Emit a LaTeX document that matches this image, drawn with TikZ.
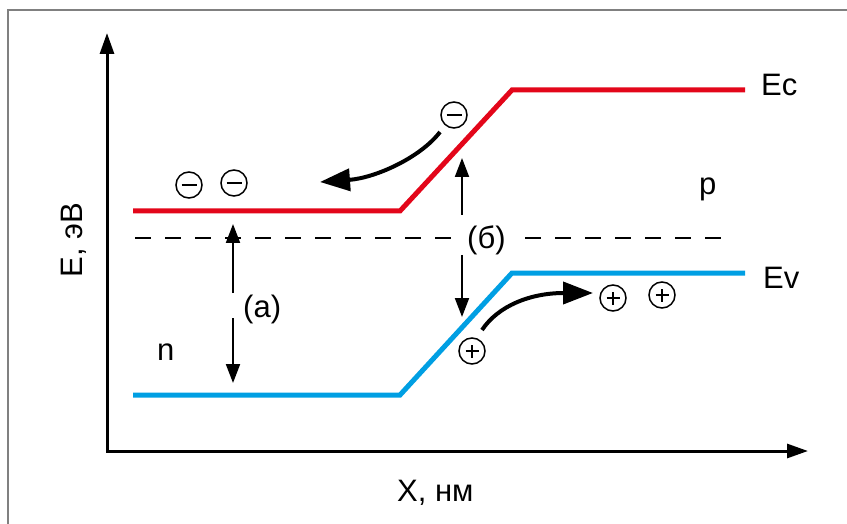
\documentclass[tikz,border=0pt]{standalone}
\usepackage{fontspec}
\setmainfont{Liberation Sans}
\usetikzlibrary{arrows.meta}
\definecolor{ecred}{HTML}{E3061A}
\definecolor{evblue}{HTML}{009FE3}
\definecolor{framegray}{HTML}{808080}
\begin{document}
\begin{tikzpicture}[x=1pt,y=-1pt,
  lbl/.style={font=\fontsize{31}{37}\selectfont, inner sep=0pt},
  band/.style={line width=5pt, line join=miter},
  axis/.style={line width=3pt, line join=miter, {Triangle[length=21pt,width=14pt]}-{Triangle[length=21pt,width=14pt]}},
  thinarrow/.style={line width=2pt, -{Triangle[length=19pt,width=14pt]}},
  bigarrow/.style={line width=4pt, -{Triangle[length=30pt,width=22pt]}},
  fermi/.style={line width=2pt, dash pattern=on 16pt off 14pt},
  charge/.style={circle, draw, line width=1.5pt, minimum size=26pt, inner sep=0pt},
  eminus/.style={charge, path picture={\draw[line width=2.3pt] ([xshift=-7.5pt]path picture bounding box.center) -- ([xshift=7.5pt]path picture bounding box.center);}},
  hplus/.style={charge, path picture={\draw[line width=2.3pt] ([xshift=-6.5pt]path picture bounding box.center) -- ([xshift=6.5pt]path picture bounding box.center) ([yshift=-6.5pt]path picture bounding box.center) -- ([yshift=6.5pt]path picture bounding box.center);}}
]
\useasboundingbox (0,0) rectangle (847,524);
% frame
\coordinate (f1) at (8,524);
\coordinate (f2) at (8,10);
\coordinate (f3) at (847,10);
\draw[framegray, line width=1.5pt] (f1) -- (f2) -- (f3);

% axes
\coordinate (O) at (107,451);
\coordinate (ytip) at (107,33);
\coordinate (xtip) at (808,451);
\draw[axis] (ytip) -- (O) -- (xtip);
\node[lbl, rotate=90, anchor=base] (ylab) at (82,240) {E, эВ};
\node[lbl, anchor=base west] (xlab) at (397,501) {X, нм};

% Fermi level
\coordinate (d1) at (135,238);
\coordinate (d2) at (452,238);
\coordinate (d3) at (525,238);
\coordinate (d4) at (725,238);
\draw[fermi] (d1) -- (d2);
\draw[fermi] (d3) -- (d4);

% bands
\coordinate (c1) at (133,211);
\coordinate (c2) at (400,211);
\coordinate (c3) at (512,90);
\coordinate (c4) at (745,90);
\draw[band, ecred] (c1) -- (c2) -- (c3) -- (c4);
\coordinate (v1) at (133,395);
\coordinate (v2) at (400,395);
\coordinate (v3) at (512,273);
\coordinate (v4) at (745,273);
\draw[band, evblue] (v1) -- (v2) -- (v3) -- (v4);

\node[lbl, anchor=base west] (Ec) at (761,96) {Ec};
\node[lbl, anchor=base west] (Ev) at (763,288) {Ev};
\node[lbl, anchor=base west] (p) at (699,195) {p};
\node[lbl, anchor=base west] (n) at (157,360) {n};

% (a) arrows
\coordinate (a1) at (233,293);
\coordinate (a2) at (233,224);
\coordinate (a3) at (233,318);
\coordinate (a4) at (233,383);
\draw[thinarrow] (a1) -- (a2);
\draw[thinarrow] (a3) -- (a4);
\node[lbl, anchor=base west] (la) at (243,317) {(a)};

% (b) arrows
\coordinate (b1) at (462,215);
\coordinate (b2) at (462,158);
\coordinate (b3) at (462,255);
\coordinate (b4) at (462,317);
\draw[thinarrow] (b1) -- (b2);
\draw[thinarrow] (b3) -- (b4);
\node[lbl, anchor=base west] (lb) at (467,248) {(б)};

% charges
\node[eminus] (e1) at (189,185) {};
\node[eminus] (e2) at (234,183) {};
\node[eminus] (e3) at (454,115) {};
\node[hplus] (h1) at (613,298) {};
\node[hplus] (h2) at (662,295) {};
\node[hplus] (h3) at (472,351) {};

% drift arrows
\coordinate (ea) at (440,132);
\coordinate (eb) at (320,182);
\draw[bigarrow] (ea) .. controls (420,158) and (375,178) .. (eb);
\coordinate (ha) at (482,330);
\coordinate (hb) at (593,293);
\draw[bigarrow] (ha) .. controls (498,306) and (530,293) .. (hb);
\end{tikzpicture}
\end{document}
